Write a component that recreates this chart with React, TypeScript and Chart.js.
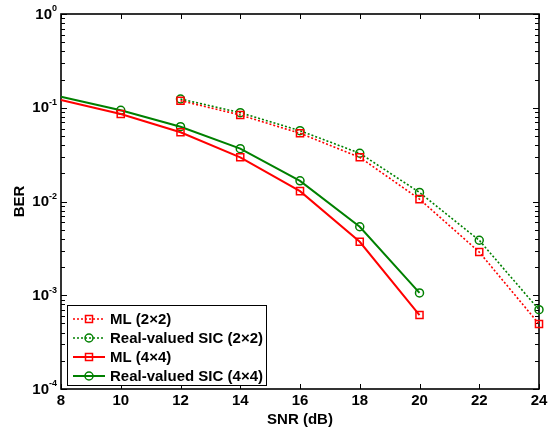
import React, { useEffect, useRef } from 'react';
import { Chart, registerables } from 'chart.js';

Chart.register(...registerables);

// ---- data ----
const snr4x4 = [8, 10, 12, 14, 16, 18, 20];
const snr2x2 = [12, 14, 16, 18, 20, 22, 24];
const berML2 = [0.119, 0.0837, 0.0534, 0.0296, 0.0106, 0.00289, 0.000494];
const berSIC2 = [0.124, 0.0886, 0.0569, 0.0327, 0.0125, 0.00386, 0.000701];
const berML4 = [0.121, 0.0858, 0.0547, 0.0296, 0.0129, 0.00372, 0.000615];
const berSIC4 = [0.131, 0.094, 0.0628, 0.0366, 0.0166, 0.00538, 0.00106];
const xTicks = [8, 10, 12, 14, 16, 18, 20, 22, 24];
const yExponents = [0, -1, -2, -3, -4];
const seriesLabels = ['ML (2×2)', 'Real-valued SIC (2×2)', 'ML (4×4)', 'Real-valued SIC (4×4)'];
const xTitle = 'SNR (dB)';
const yTitle = 'BER';

const RED = '#ff0000';
const GREEN = '#008000';
const FONT = '"Liberation Sans", Arial, Helvetica, sans-serif';

const toPts = (xs: number[], ys: number[]) => xs.map((x, i) => ({ x, y: ys[i] }));

const legendItems = [
  { label: seriesLabels[0], color: RED, dash: [2, 2], marker: 'rect' },
  { label: seriesLabels[1], color: GREEN, dash: [2, 2], marker: 'circle' },
  { label: seriesLabels[2], color: RED, dash: [], marker: 'rect' },
  { label: seriesLabels[3], color: GREEN, dash: [], marker: 'circle' },
];

function drawMarker(ctx: CanvasRenderingContext2D, kind: string, x: number, y: number, color: string) {
  ctx.save();
  ctx.setLineDash([]);
  ctx.strokeStyle = color;
  ctx.lineWidth = 1.5;
  ctx.beginPath();
  if (kind === 'rect') {
    ctx.rect(x - 3.5, y - 3.5, 7, 7);
  } else {
    ctx.arc(x, y, 4, 0, Math.PI * 2);
  }
  ctx.stroke();
  ctx.restore();
}

const framePlugin = {
  id: 'matlabFrame',
  beforeDatasetsDraw(chart: any) {
    const { ctx, chartArea: a, scales } = chart;
    const xs = scales.x;
    const ys = scales.y;
    ctx.save();
    ctx.strokeStyle = '#000';
    ctx.lineWidth = 1;
    const seg = (x1: number, y1: number, x2: number, y2: number) => {
      ctx.beginPath();
      ctx.moveTo(x1, y1);
      ctx.lineTo(x2, y2);
      ctx.stroke();
    };
    // x ticks (inward, bottom and top)
    for (const t of xTicks) {
      const px = Math.round(xs.getPixelForValue(t)) + 0.5;
      seg(px, a.bottom, px, a.bottom - 5);
      seg(px, a.top, px, a.top + 5);
    }
    // y ticks (log major + minor, left and right)
    const vals: { v: number; major: boolean }[] = [];
    for (let e = -4; e <= 0; e++) {
      for (let m = 1; m <= 9; m++) {
        if (e === 0 && m > 1) break;
        vals.push({ v: m * Math.pow(10, e), major: m === 1 });
      }
    }
    for (const { v, major } of vals) {
      const py = Math.round(ys.getPixelForValue(v)) + 0.5;
      const len = major ? 6 : 4;
      seg(a.left, py, a.left + len, py);
      seg(a.right, py, a.right - len, py);
    }
    // frame
    ctx.lineWidth = 1.6;
    ctx.strokeRect(a.left, a.top, a.right - a.left, a.bottom - a.top);

    // y tick labels 10^e
    ctx.fillStyle = '#000';
    ctx.textBaseline = 'middle';
    for (const e of yExponents) {
      const py = ys.getPixelForValue(Math.pow(10, e));
      const expText = String(e);
      ctx.font = `bold 9px ${FONT}`;
      const ew = ctx.measureText(expText).width;
      const rightEdge = a.left - 4;
      ctx.textAlign = 'right';
      ctx.fillText(expText, rightEdge, py - 5);
      ctx.font = `bold 15px ${FONT}`;
      ctx.fillText('10', rightEdge - ew, py + 0.5);
    }
    ctx.restore();
  },
  afterDraw(chart: any) {
    const { ctx, chartArea: a } = chart;
    ctx.save();
    // legend
    ctx.font = `bold 15px ${FONT}`;
    let maxW = 0;
    for (const it of legendItems) maxW = Math.max(maxW, ctx.measureText(it.label).width);
    const boxL = Math.round(a.left + 5.5) + 0.5;
    const boxH = 80;
    const boxB = Math.round(a.bottom - 4) + 0.5;
    const boxT = boxB - boxH;
    const boxW = Math.round(43 + maxW + 3);
    ctx.fillStyle = '#fff';
    ctx.fillRect(boxL, boxT, boxW, boxH);
    ctx.lineWidth = 1;
    ctx.strokeStyle = '#000';
    ctx.strokeRect(boxL, boxT, boxW, boxH);
    legendItems.forEach((it, i) => {
      const y = boxT + 13.5 + i * 19;
      ctx.save();
      ctx.strokeStyle = it.color;
      ctx.lineWidth = it.dash.length ? 1.5 : 2;
      ctx.setLineDash(it.dash);
      ctx.beginPath();
      ctx.moveTo(boxL + 5.5, y);
      ctx.lineTo(boxL + 37.5, y);
      ctx.stroke();
      ctx.restore();
      drawMarker(ctx, it.marker, boxL + 21.5, y, it.color);
      ctx.fillStyle = '#000';
      ctx.textAlign = 'left';
      ctx.textBaseline = 'middle';
      ctx.fillText(it.label, boxL + 42.5, y + 0.5);
    });
    ctx.restore();
  },
};

export default function App() {
  const ref = useRef<HTMLCanvasElement | null>(null);
  useEffect(() => {
    document.body.style.margin = '0';
    const canvas = ref.current;
    if (!canvas) return;
    const mk = (label: string, xsv: number[], ysv: number[], color: string, dash: number[], marker: string, hideFirst: boolean) => ({
      label,
      data: toPts(xsv, ysv),
      borderColor: color,
      backgroundColor: color,
      borderWidth: dash.length ? 1.6 : 2,
      borderDash: dash,
      pointStyle: marker,
      pointRadius: xsv.map((_, i) => (hideFirst && i === 0 ? 0 : marker === 'rect' ? 5 : 4)),
      pointBorderWidth: 1.5,
      pointBorderColor: color,
      pointBackgroundColor: 'rgba(0,0,0,0)',
      fill: false,
      tension: 0,
      clip: false,
    });
    const chart = new Chart(canvas, {
      type: 'line',
      data: {
        datasets: [
          mk(seriesLabels[0], snr2x2, berML2, RED, [2, 2], 'rect', false),
          mk(seriesLabels[1], snr2x2, berSIC2, GREEN, [2, 2], 'circle', false),
          mk(seriesLabels[2], snr4x4, berML4, RED, [], 'rect', true),
          mk(seriesLabels[3], snr4x4, berSIC4, GREEN, [], 'circle', true),
        ] as any,
      },
      options: {
        animation: false,
        responsive: false,
        maintainAspectRatio: false,
        layout: { padding: { left: 0, right: 18, top: 14, bottom: 0 } },
        plugins: { legend: { display: false }, tooltip: { enabled: false } },
        scales: {
          x: {
            type: 'linear',
            min: 8,
            max: 24,
            ticks: {
              stepSize: 2,
              color: '#000',
              font: { family: FONT, size: 15, weight: 'bold' },
              padding: 3,
              maxRotation: 0,
            },
            grid: { drawOnChartArea: false, drawTicks: false },
            border: { display: false },
            title: {
              display: true,
              text: xTitle,
              color: '#000',
              font: { family: FONT, size: 15, weight: 'bold' },
              padding: { top: 0, bottom: 3.5 },
            },
            afterFit: (s: any) => {
              s.height = 43;
            },
          },
          y: {
            type: 'logarithmic',
            min: 1e-4,
            max: 1,
            ticks: { display: false },
            grid: { drawOnChartArea: false, drawTicks: false },
            border: { display: false },
            title: {
              display: true,
              text: yTitle,
              color: '#000',
              font: { family: FONT, size: 15, weight: 'bold' },
              padding: { top: 10.5, bottom: 0 },
            },
            afterFit: (s: any) => {
              s.width = 61;
            },
          },
        },
      } as any,
      plugins: [framePlugin],
    });
    return () => chart.destroy();
  }, []);
  return (
    <div style={{ width: 557, height: 432 }}>
      <canvas ref={ref} width={557} height={432} style={{ display: 'block' }} />
    </div>
  );
}
